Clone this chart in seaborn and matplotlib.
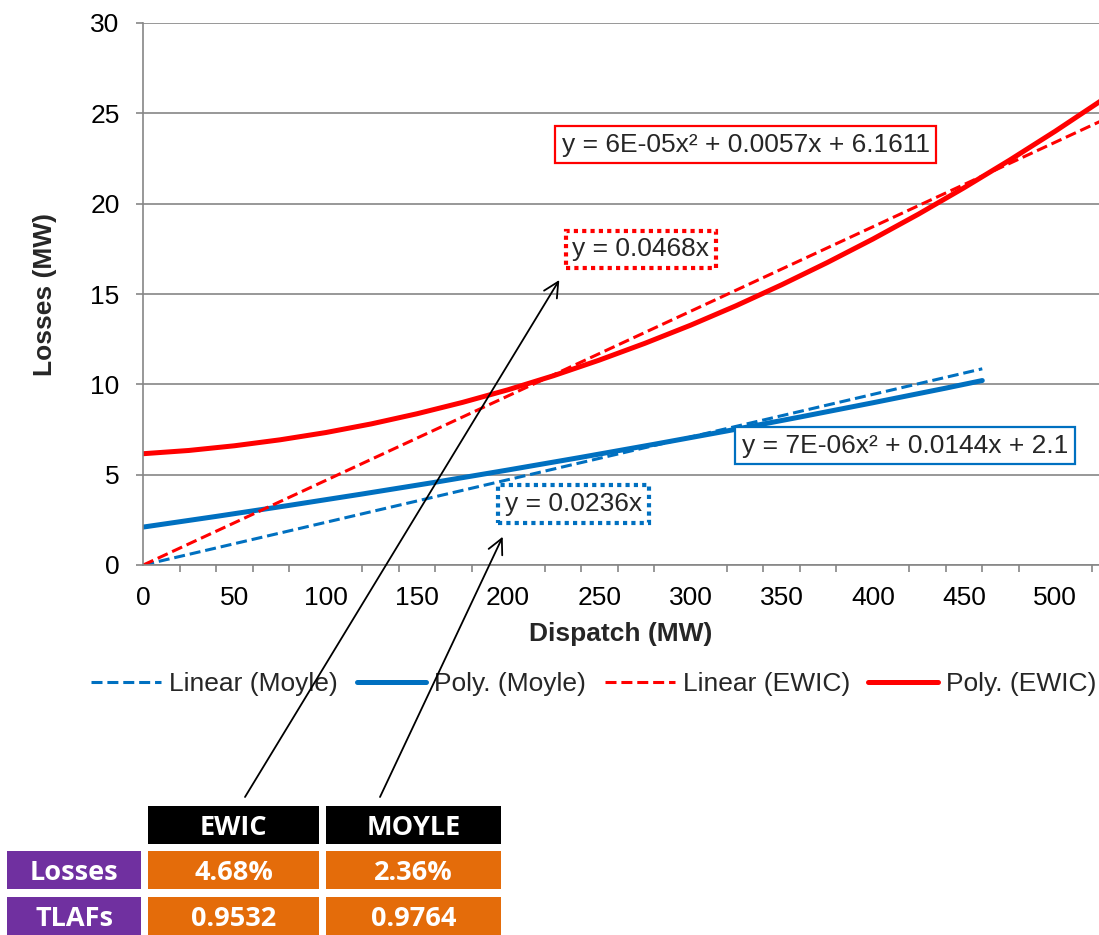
import seaborn as sns
import matplotlib.pyplot as plt
from matplotlib.patches import Rectangle, FancyArrowPatch
from matplotlib.ticker import MultipleLocator

# trendline values (Losses in MW vs Dispatch in MW)
ewic_x = [0, 25, 50, 75, 100, 125, 150, 175, 200, 225, 250, 275, 300,
          325, 350, 375, 400, 425, 450, 475, 500, 525]
ewic_poly = [6.16, 6.34, 6.60, 6.93, 7.33, 7.81, 8.37, 9.00, 9.70, 10.48, 11.34,
             12.27, 13.27, 14.35, 15.51, 16.74, 18.04, 19.42, 20.88, 22.41, 24.01, 25.69]
ewic_lin_x = [0, 525]
ewic_lin = [0.0, 24.57]

moyle_x = [0, 40, 80, 120, 160, 200, 240, 280, 320, 360, 400, 440, 460]
moyle_poly = [2.10, 2.69, 3.30, 3.93, 4.58, 5.26, 5.96, 6.68, 7.42, 8.19, 8.98, 9.79, 10.21]
moyle_lin_x = [0, 460]
moyle_lin = [0.0, 10.86]

eq_ewic_poly = 'y = 6E-05x² + 0.0057x + 6.1611'
eq_ewic_lin = 'y = 0.0468x'
eq_moyle_poly = 'y = 7E-06x² + 0.0144x + 2.1'
eq_moyle_lin = 'y = 0.0236x'

col_headers = ['EWIC', 'MOYLE']
row_labels = ['Losses', 'TLAFs']
cells = [['4.68%', '2.36%'],
         ['0.9532', '0.9764']]

BLUE = '#0070C0'
RED = '#FF0000'
GREY = '#868686'
PURPLE = '#7030A0'
ORANGE = '#E46C0A'

sns.set_theme(style='white')
plt.rcParams['font.family'] = ['Liberation Sans', 'DejaVu Sans']

W, H = 1099, 935
fig = plt.figure(figsize=(W / 100, H / 100), dpi=100)
ax = fig.add_axes([143.3 / W, 1 - 565 / H, 1 - 143.3 / W, 542 / H])

dash = (0, (3.6, 1.6))
sns.lineplot(x=moyle_lin_x, y=moyle_lin, ax=ax, color=BLUE, lw=2.2, linestyle=dash, label='Linear (Moyle)')
sns.lineplot(x=moyle_x, y=moyle_poly, ax=ax, color=BLUE, lw=3.6, label='Poly. (Moyle)')
sns.lineplot(x=ewic_lin_x, y=ewic_lin, ax=ax, color=RED, lw=2.2, linestyle=dash, label='Linear (EWIC)')
sns.lineplot(x=ewic_x, y=ewic_poly, ax=ax, color=RED, lw=3.6, label='Poly. (EWIC)')

ax.set_xlim(0, 524)
ax.set_ylim(0, 30)
ax.xaxis.set_major_locator(MultipleLocator(50))
ax.xaxis.set_minor_locator(MultipleLocator(20))
ax.yaxis.set_major_locator(MultipleLocator(5))
ax.set_axisbelow(True)
ax.yaxis.grid(True, color=GREY, lw=1.2)
ax.xaxis.grid(False)
for s in ['top', 'right']:
    ax.spines[s].set_visible(False)
for s in ['left', 'bottom']:
    ax.spines[s].set_color(GREY)
    ax.spines[s].set_linewidth(1.2)

ax.tick_params(axis='y', left=True, length=5, width=1.2, color=GREY, pad=12, labelsize=19, labelcolor='black')
ax.tick_params(axis='x', which='major', bottom=True, length=0, pad=15, labelsize=19, labelcolor='black')
ax.tick_params(axis='x', which='minor', bottom=True, length=5, width=1.2, color=GREY)

ax.set_xlabel('Dispatch (MW)', fontsize=19, fontweight='bold')
ax.set_ylabel('Losses (MW)', fontsize=19, fontweight='bold')
ax.xaxis.set_label_coords(0.5, -0.105)
ax.yaxis.set_label_coords(-0.090, 0.5)

# trendline equation labels
eq_font = 19
ax.text(330.4, 23.26, eq_ewic_poly, ha='center', va='center', fontsize=eq_font,
        bbox=dict(boxstyle='square,pad=0.25', fc='white', ec=RED, lw=1.6))
ax.text(272.8, 17.47, eq_ewic_lin, ha='center', va='center', fontsize=eq_font,
        bbox=dict(boxstyle='square,pad=0.25', fc='white', ec=RED, lw=3, ls=(0, (1, 1))))
ax.text(417.6, 6.61, eq_moyle_poly, ha='center', va='center', fontsize=eq_font,
        bbox=dict(boxstyle='square,pad=0.25', fc='white', ec=BLUE, lw=1.6))
ax.text(235.8, 3.38, eq_moyle_lin, ha='center', va='center', fontsize=eq_font,
        bbox=dict(boxstyle='square,pad=0.25', fc='white', ec=BLUE, lw=3, ls=(0, (1, 1))))

handles, labels = ax.get_legend_handles_labels()
ax.get_legend().remove()
fig.legend(handles, labels, loc='center', bbox_to_anchor=(594 / W, 1 - 684 / H), ncol=4,
           frameon=False, fontsize=19, handlelength=2.65, handletextpad=0.3, columnspacing=0.7)

# summary table below the chart
col_edges = [(7, 141), (148, 319), (326, 501)]
row_edges = [(806, 844), (851, 889), (897, 935)]


def cell(col, row, text, color):
    x0, x1 = col_edges[col]
    y0, y1 = row_edges[row]
    fig.add_artist(Rectangle((x0 / W, 1 - y1 / H), (x1 - x0) / W, (y1 - y0) / H,
                             transform=fig.transFigure, fc=color, ec='none'))
    fig.text((x0 + x1) / 2 / W, 1 - ((y0 + y1) / 2 + 3) / H, text, ha='center', va='center',
             color='white', fontweight='bold', fontsize=19.5, family=['Open Sans', 'DejaVu Sans'])


for j, name in enumerate(col_headers):
    cell(j + 1, 0, name, 'black')
for i, name in enumerate(row_labels):
    cell(0, i + 1, name, PURPLE)
    for j, val in enumerate(cells[i]):
        cell(j + 1, i + 1, val, ORANGE)

# arrows from the table to the linear-fit labels
for start, end in [((245, 797), (559.3, 280)), ((380, 797), (502.7, 536.7))]:
    fig.add_artist(FancyArrowPatch((start[0] / W, 1 - start[1] / H), (end[0] / W, 1 - end[1] / H),
                                   transform=fig.transFigure, arrowstyle='->', mutation_scale=27,
                                   lw=1.3, color='black', shrinkA=0, shrinkB=0, zorder=10))

fig.savefig('out.png', dpi=100)
